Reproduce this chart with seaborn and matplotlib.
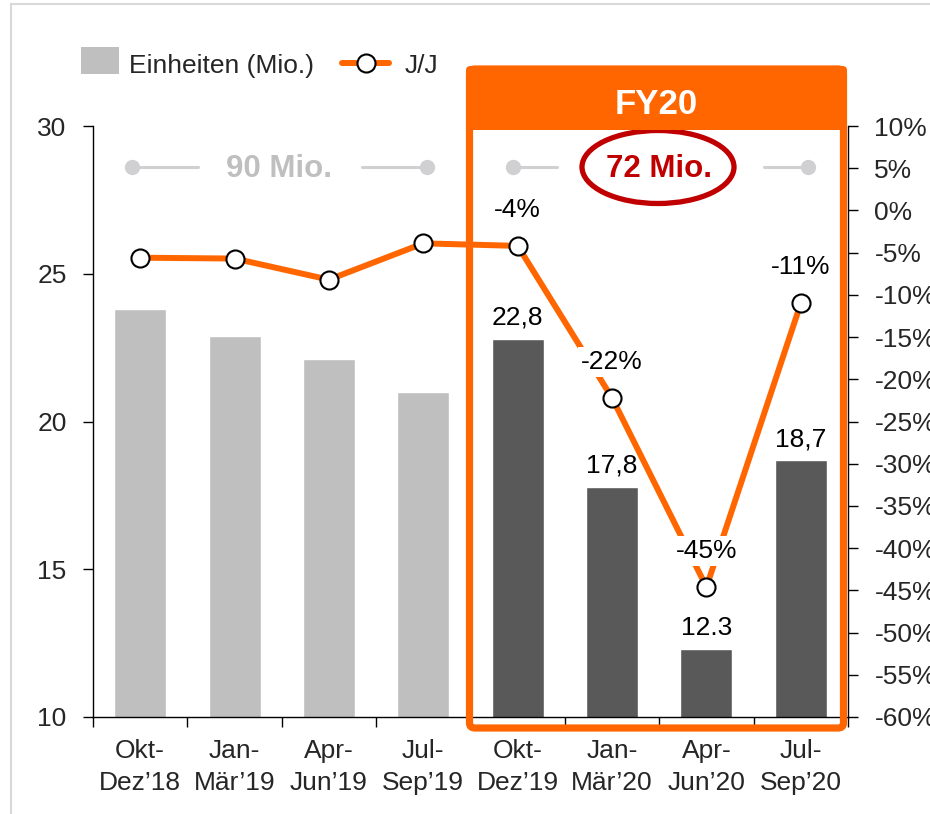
import numpy as np
import pandas as pd
import matplotlib
matplotlib.use("Agg")
import matplotlib.pyplot as plt
import seaborn as sns
from matplotlib.patches import FancyBboxPatch, Rectangle, Ellipse
from matplotlib.lines import Line2D

categories = ["Okt-\nDez’18", "Jan-\nMär’19", "Apr-\nJun’19", "Jul-\nSep’19",
              "Okt-\nDez’19", "Jan-\nMär’20", "Apr-\nJun’20", "Jul-\nSep’20"]
units = [23.8, 22.9, 22.1, 21.0, 22.8, 17.8, 12.3, 18.7]
yoy = [-5.6, -5.7, -8.2, -3.9, -4.2, -22.2, -44.6, -11.0]
period = ["FY19"] * 4 + ["FY20"] * 4
bar_labels = ["", "", "", "", "22,8", "17,8", "12.3", "18,7"]
yoy_labels = ["", "", "", "", "-4%", "-22%", "-45%", "-11%"]
left_ticks = [10, 15, 20, 25, 30]
right_ticks = list(range(-60, 11, 5))
legend_bar = "Einheiten (Mio.)"
legend_line = "J/J"
total_fy19 = "90 Mio."
total_fy20 = "72 Mio."
box_title = "FY20"

ORANGE = "#FF6600"
LIGHT = "#BFBFBF"
DARK = "#595959"
FS = 19

sns.set_theme(style="white")
plt.rcParams["font.family"] = ["Liberation Sans", "DejaVu Sans"]

W, H = 930, 814
fig = plt.figure(figsize=(W / 100, H / 100), dpi=100)
fx = lambda px: px / W
fy = lambda py: 1 - py / H

ax = fig.add_axes([fx(93), fy(717), (848 - 93) / W, (717 - 126) / H])
df = pd.DataFrame({"cat": categories, "units": units, "period": period})
sns.barplot(data=df, x="cat", y="units", hue="period",
            palette={"FY19": LIGHT, "FY20": DARK}, width=0.55, dodge=False,
            saturation=1, legend=False, ax=ax)
ax.set_ylim(10, 30)
ax.set_xlim(-0.5, 7.5)
ax.set_yticks(left_ticks)
ax.set_yticklabels([str(t) for t in left_ticks], fontsize=FS)
ax.set_xticks(np.arange(-0.5, 8, 1))
ax.set_xticklabels([""] * 9)
ax.set_xticks(np.arange(8), minor=True)
ax.set_xticklabels(categories, minor=True, fontsize=FS, linespacing=1.42)
ax.tick_params(axis="x", which="major", bottom=True, length=7, width=1, color="black", direction="out")
ax.tick_params(axis="x", which="minor", bottom=True, length=0, pad=16)
ax.tick_params(axis="y", left=True, length=7, width=1, color="black", direction="out", pad=12)
ax.set_xlabel("")
ax.set_ylabel("")
for s in ["top", "right"]:
    ax.spines[s].set_visible(False)
for s in ["left", "bottom"]:
    ax.spines[s].set_color("black")
    ax.spines[s].set_linewidth(1)

for i, lbl in enumerate(bar_labels):
    if lbl:
        ax.annotate(lbl, (i, units[i]), xytext=(0, 15), textcoords="offset points",
                    ha="center", va="center", fontsize=FS, color="black")

ax2 = ax.twinx()
sns.lineplot(x=np.arange(8), y=yoy, ax=ax2, color=ORANGE, lw=4.3, marker="o",
             markersize=13, markerfacecolor="white", markeredgecolor="black",
             markeredgewidth=1.5, zorder=5)
ax2.set_ylim(-60, 10)
ax2.set_xlim(-0.5, 7.5)
ax2.set_yticks(right_ticks)
ax2.set_yticklabels([f"{t}%" for t in right_ticks], fontsize=FS)
ax2.tick_params(axis="y", right=True, length=7, width=1, color="black", direction="out", pad=12)
for s in ["top", "left", "bottom"]:
    ax2.spines[s].set_visible(False)
ax2.spines["right"].set_color("black")
ax2.spines["right"].set_linewidth(1)
ax2.grid(False)
ax.grid(False)

for i, lbl in enumerate(yoy_labels):
    if lbl:
        ax2.annotate(lbl, (i, yoy[i]), xytext=(0, 26), textcoords="offset points",
                     ha="center", va="center", fontsize=FS, color="black", zorder=7,
                     bbox=dict(boxstyle="square,pad=0.12", fc="white", ec="none"))

# Figure border (light)
fig.add_artist(Line2D([fx(11), fx(11)], [fy(4), 0], transform=fig.transFigure, color="#D9D9D9", lw=1.5))
fig.add_artist(Line2D([fx(11), 1], [fy(4), fy(4)], transform=fig.transFigure, color="#D9D9D9", lw=1.5))

# Legend
fig.add_artist(Rectangle((fx(81), fy(74)), (119 - 81) / W, (74 - 47) / H,
                         transform=fig.transFigure, color=LIGHT, lw=0))
fig.text(fx(129), fy(66), legend_bar, fontsize=FS, ha="left", va="center")
fig.add_artist(Line2D([fx(342), fx(389)], [fy(63), fy(63)], transform=fig.transFigure,
                      color=ORANGE, lw=4.3))
fig.add_artist(Line2D([fx(366)], [fy(63)], transform=fig.transFigure, marker="o",
                      markersize=13, markerfacecolor="white", markeredgecolor="black",
                      markeredgewidth=1.5, lw=0))
fig.text(fx(405), fy(66), legend_line, fontsize=FS, ha="left", va="center")

# Totals with grey connector lines
GREY = "#D0D0D3"
def connector(x0, x1, dot_at_start):
    fig.add_artist(Line2D([fx(x0), fx(x1)], [fy(167), fy(167)], transform=fig.transFigure,
                          color=GREY, lw=2.2, marker="o", markersize=10,
                          markevery=[0] if dot_at_start else [1],
                          markerfacecolor=GREY, markeredgecolor=GREY))
connector(132, 198, True)
connector(362, 427, False)
connector(513, 557, True)
connector(764, 808, False)
fig.text(fx(279), fy(169), total_fy19, fontsize=22.5, fontweight="bold", color="#BFBFBF",
         ha="center", va="center")
fig.text(fx(659), fy(169), total_fy20, fontsize=22.5, fontweight="bold", color="#C00000",
         ha="center", va="center")
fig.add_artist(Ellipse((fx(658), fy(167)), 152 / W, 73 / H, transform=fig.transFigure,
                       fill=False, ec="#C00000", lw=3.8))

# FY20 box
fig.add_artist(FancyBboxPatch((fx(466), fy(130)), (847 - 466) / W, (130 - 66) / H,
                              boxstyle="round,pad=0,rounding_size=0.005",
                              transform=fig.transFigure, fc=ORANGE, ec="none"))
fig.add_artist(FancyBboxPatch((fx(469.5), fy(728)), (843.5 - 469.5) / W, (728 - 69) / H,
                              boxstyle="round,pad=0,rounding_size=0.006",
                              transform=fig.transFigure, fc="none", ec=ORANGE, lw=5.2))
fig.text(fx(656), fy(104), box_title, fontsize=25, fontweight="bold", color="white",
         ha="center", va="center")

fig.savefig("out.png", dpi=100)
